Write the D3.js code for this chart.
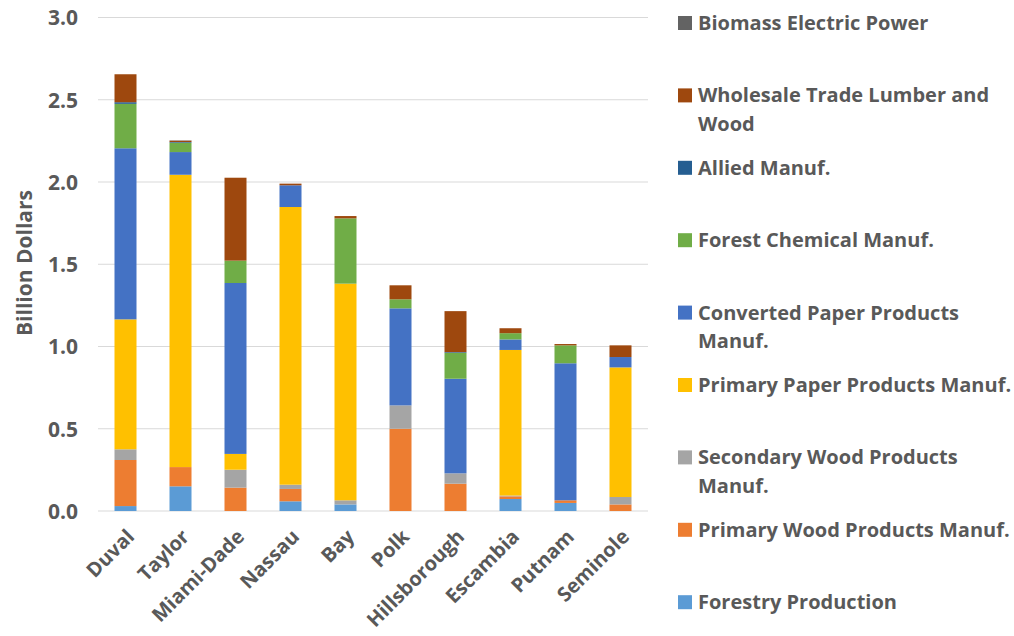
<!DOCTYPE html>
<html><head><meta charset="utf-8">
<script src="https://cdn.jsdelivr.net/npm/d3@7"></script>
<style>
html,body{margin:0;padding:0;background:#fff;}
svg{display:block;font-family:"Open Sans",sans-serif;}
</style></head>
<body><svg id="c" width="1014" height="636"></svg>
<script>
const counties = ["Duval","Taylor","Miami-Dade","Nassau","Bay","Polk","Hillsborough","Escambia","Putnam","Seminole"];
const seriesNames = ["Forestry Production","Primary Wood Products Manuf.","Secondary Wood Products Manuf.","Primary Paper Products Manuf.","Converted Paper Products Manuf.","Forest Chemical Manuf.","Allied Manuf.","Wholesale Trade Lumber and Wood","Biomass Electric Power"];
const legendLines = [["Forestry Production"],["Primary Wood Products Manuf."],["Secondary Wood Products","Manuf."],["Primary Paper Products Manuf."],["Converted Paper Products","Manuf."],["Forest Chemical Manuf."],["Allied Manuf."],["Wholesale Trade Lumber and","Wood"],["Biomass Electric Power"]];
const colors = ["#5B9BD5","#ED7D31","#A5A5A5","#FFC000","#4472C4","#70AD47","#255E91","#9E480E","#636363"];
// values in billion dollars, per county, one array per series
const forestry      = [0.030,0.150,0.000,0.059,0.040,0.000,0.000,0.073,0.049,0.000];
const primaryWood   = [0.280,0.117,0.142,0.075,0.000,0.500,0.166,0.016,0.016,0.040];
const secondaryWood = [0.065,0.000,0.109,0.026,0.025,0.142,0.063,0.005,0.000,0.045];
const primaryPaper  = [0.790,1.777,0.096,1.688,1.317,0.000,0.000,0.885,0.000,0.788];
const convertedPaper= [1.040,0.138,1.039,0.132,0.000,0.590,0.575,0.064,0.833,0.063];
const forestChem    = [0.270,0.057,0.136,0.000,0.397,0.055,0.158,0.038,0.109,0.000];
const allied        = [0.010,0.004,0.000,0.000,0.000,0.000,0.004,0.000,0.000,0.000];
const wholesale     = [0.170,0.008,0.504,0.010,0.014,0.085,0.249,0.030,0.008,0.071];
const biomass       = [0.000,0.002,0.000,0.000,0.000,0.000,0.000,0.000,0.000,0.000];
const yTicks = [0,0.5,1.0,1.5,2.0,2.5,3.0];

const seriesArrays = [forestry,primaryWood,secondaryWood,primaryPaper,convertedPaper,forestChem,allied,wholesale,biomass];
const rows = counties.map((c,i)=>{const r={county:c}; seriesNames.forEach((s,k)=>r[s]=seriesArrays[k][i]); return r;});
const stacked = d3.stack().keys(seriesNames)(rows);

const svg = d3.select("#c");
const pLeft=98, pRight=648, pTop=17.5, pBottom=511;
const x = d3.scaleBand().domain(counties).range([pLeft,pRight]).paddingInner(0.6).paddingOuter(0.3);
const y = d3.scaleLinear().domain([0,3]).range([pBottom,pTop]);

// gridlines
svg.append("g").selectAll("line").data(yTicks).join("line")
  .attr("x1",pLeft).attr("x2",pRight)
  .attr("y1",d=>y(d)).attr("y2",d=>y(d))
  .attr("stroke","#d9d9d9").attr("stroke-width",1.2);

// y axis labels
const yAxis = d3.axisLeft(y).tickValues(yTicks).tickFormat(d3.format(".1f")).tickSize(0).tickPadding(0);
const ga = svg.append("g").attr("transform",`translate(78,0)`).call(yAxis);
ga.select(".domain").remove();
ga.selectAll("text").attr("font-family","Open Sans").attr("font-size",21).attr("font-weight",700).attr("fill","#595959").attr("dy","0.35em");

// bars
svg.append("g").selectAll("g").data(stacked).join("g")
  .attr("fill",(d,i)=>colors[i])
  .selectAll("rect").data(d=>d).join("rect")
  .attr("x",d=>x(d.data.county))
  .attr("width",x.bandwidth())
  .attr("y",d=>y(d[1]))
  .attr("height",d=>Math.max(0,y(d[0])-y(d[1])));

// x labels
const gx = svg.append("g").attr("transform",`translate(0,${pBottom})`)
  .call(d3.axisBottom(x).tickSize(0).tickPadding(0));
gx.select(".domain").remove();
gx.selectAll("text")
  .attr("font-family","Open Sans").attr("font-size",20).attr("font-weight",700).attr("fill","#595959")
  .attr("text-anchor","end").attr("dy",0)
  .attr("transform","translate(10,27) rotate(-45)");

// y title
svg.append("text").attr("transform","translate(32,263) rotate(-90)")
  .attr("text-anchor","middle").attr("font-size",21).attr("font-weight",700).attr("fill","#595959")
  .text("Billion Dollars");

// legend (top to bottom: reverse order)
const legItems = seriesNames.map((s,i)=>({i, lines: legendLines[i]})).reverse();
const lg = svg.append("g");
legItems.forEach((it,j)=>{
  const cy = 23 + j*72.4;
  lg.append("rect").attr("x",678).attr("y",cy-7).attr("width",14).attr("height",14).attr("fill",colors[it.i]);
  const t = lg.append("text").attr("x",698).attr("y",cy)
    .attr("font-size",20).attr("font-weight",700).attr("fill","#595959");
  it.lines.forEach((ln,k)=>{
    t.append("tspan").attr("x",698).attr("dy",k===0?"0.35em":"28.5").text(ln);
  });
});
</script></body></html>
